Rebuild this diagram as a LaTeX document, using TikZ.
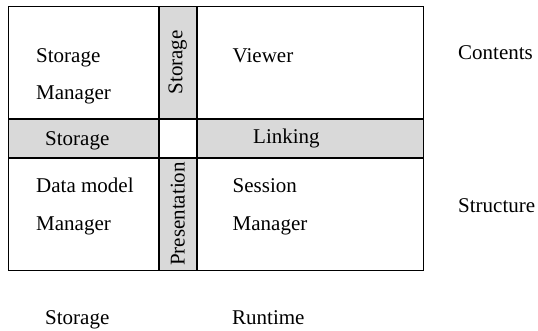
\documentclass[tikz,border=0pt]{standalone}
\usepackage{fontspec}
\setmainfont{Liberation Serif}
\usetikzlibrary{positioning}
\tikzstyle{cell} = [rectangle, draw=black, line width=0.8pt, inner sep=0pt]
\tikzstyle{band} = [cell, fill=black!15]
\tikzstyle{txt} = [inner sep=0pt, anchor=base west, font=\fontsize{21}{25}\selectfont]
\tikzstyle{vtxt} = [inner sep=0pt, rotate=90, font=\fontsize{21}{25}\selectfont]

\begin{document}
\begin{tikzpicture}[x=1pt, y=1pt]
\useasboundingbox (0,0) rectangle (538,331);
% 定义格子
\node (tl) [cell, anchor=north west, minimum width=150.5pt, minimum height=112pt] at (7.5,325) {};
\node (vtop) [band, minimum width=37pt, minimum height=112pt, right=0pt of tl] {};
\node (tr) [cell, minimum width=226pt, minimum height=112pt, right=0pt of vtop] {};
\node (hleft) [band, minimum width=150.5pt, minimum height=38pt, below=0pt of tl] {};
\node (mid) [cell, minimum width=37pt, minimum height=38pt, right=0pt of hleft] {};
\node (hright) [band, minimum width=226pt, minimum height=38pt, right=0pt of mid] {};
\node (bl) [cell, minimum width=150.5pt, minimum height=112pt, below=0pt of hleft] {};
\node (vbot) [band, minimum width=37pt, minimum height=112pt, right=0pt of bl] {};
\node (br) [cell, minimum width=226pt, minimum height=112pt, right=0pt of vbot] {};

% 添加文字
\node (sm1) [txt] at (36,268) {Storage};
\node (sm2) [txt] at (36,231) {Manager};
\node (vst) [vtxt] at (vtop.center) {Storage};
\node (view) [txt] at (232.5,268) {Viewer};
\node (hst) [txt] at (45,185) {Storage};
\node (link) [txt] at (253,187) {Linking};
\node (dm1) [txt] at (36,138) {Data model};
\node (dm2) [txt] at (36,100) {Manager};
\node (pres) [vtxt] at (vbot.center) {Presentation};
\node (ses1) [txt] at (232.5,138) {Session};
\node (ses2) [txt] at (232.5,100) {Manager};

% 外部标签
\node (cont) [txt] at (458,271) {Contents};
\node (struc) [txt] at (458,118) {Structure};
\node (stor) [txt] at (45,6) {Storage};
\node (run) [txt] at (232,6) {Runtime};
\end{tikzpicture}
\end{document}
